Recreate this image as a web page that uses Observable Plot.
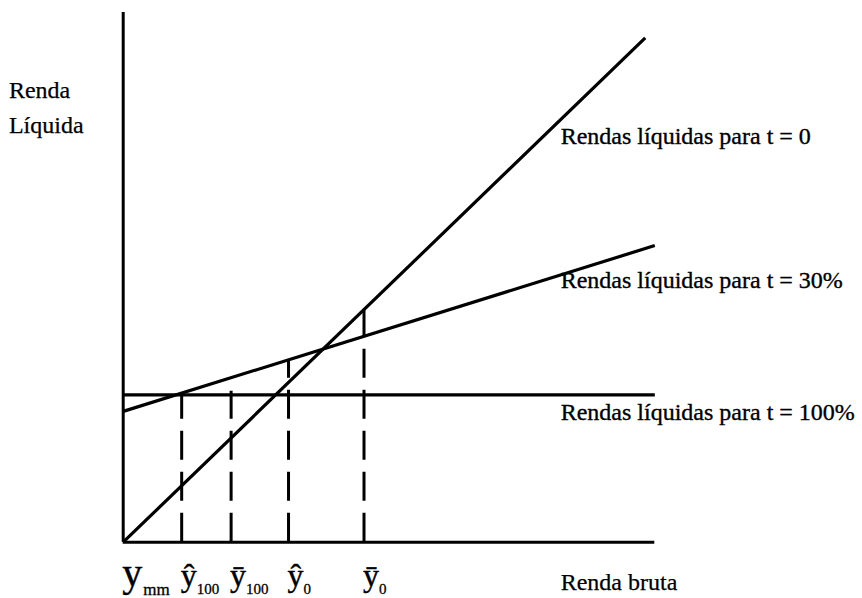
<!DOCTYPE html>
<html>
<head>
<meta charset="utf-8">
<script src="https://cdn.jsdelivr.net/npm/d3@7"></script>
<script src="https://cdn.jsdelivr.net/npm/@observablehq/plot@0.6"></script>
<style>
  html, body { margin: 0; padding: 0; background: #fff; }
  #chart svg { display: block; }
</style>
</head>
<body>
<div id="chart"></div>
<script>
// Net-income lines (gross income on x, net income on y), abstract units 0–100
const seriesNames  = ["t = 0", "t = 30%", "t = 100%"];
const seriesX1     = [0, 0, 0];
const seriesY1     = [0, 24.7, 27.8];
const seriesX2     = [98.2, 100, 100];
const seriesY2     = [95.2, 56.0, 27.8];
const seriesLabels = ["Rendas líquidas para t = 0", "Rendas líquidas para t = 30%", "Rendas líquidas para t = 100%"];
const seriesLabelX = [82.3, 82.3, 82.3];
const seriesLabelY = [75.1, 48.0, 23.0];

// Dashed reference levels of gross income
const markerX   = [11.0, 20.3, 31.1, 45.3];
const markerTop = [27.8, 28.5, 34.5, 43.9];

// Tick labels on the gross-income axis
const tickLetters = ["y", "ŷ", "ȳ", "ŷ", "ȳ"];
const tickSubs    = ["mm", "100", "100", "0", "0"];
const tickX       = [0, 11.0, 20.3, 31.1, 45.3];

// Axis titles
const axisTitles  = ["Renda", "Líquida", "Renda bruta"];
const axisTitleX  = [-21.5, -21.5, 82.3];
const axisTitleY  = [83.8, 77.2, -9.1];

const lines = seriesNames.map((name, i) => ({
  name, x1: seriesX1[i], y1: seriesY1[i], x2: seriesX2[i], y2: seriesY2[i],
  label: seriesLabels[i], lx: seriesLabelX[i], ly: seriesLabelY[i]
}));
const markers = markerX.map((x, i) => ({x, top: markerTop[i]}));
const ticks = tickLetters.map((letter, i) => ({letter, sub: tickSubs[i], x: tickX[i]}));
const titles = axisTitles.map((t, i) => ({t, x: axisTitleX[i], y: axisTitleY[i]}));

const font = "'Liberation Serif', 'Times New Roman', serif";

const chart = Plot.plot({
  width: 862,
  height: 598,
  margin: 0,
  style: {fontFamily: font, background: "#fff", color: "#000"},
  x: {domain: [0, 100], range: [122.7, 654.3], axis: null},
  y: {domain: [0, 100], range: [541.7, 12], axis: null},
  marks: [
    // axes
    Plot.ruleX([0], {y1: 0, y2: 100, stroke: "#000", strokeWidth: 3}),
    Plot.ruleY([0], {x1: 0, x2: 100, stroke: "#000", strokeWidth: 3}),
    // dashed guides
    Plot.ruleX(markers, {x: "x", y1: 0, y2: "top", stroke: "#000", strokeWidth: 3, strokeDasharray: "29,12"}),
    // net-income lines
    Plot.link(lines, {x1: "x1", y1: "y1", x2: "x2", y2: "y2", stroke: "#000", strokeWidth: 3.2}),
    // line labels
    Plot.text(lines, {x: "lx", y: "ly", text: "label", textAnchor: "start", lineAnchor: "bottom",
      fontSize: 24, fill: "#000", stroke: "#000", strokeWidth: 0.35}),
    // axis titles
    Plot.text(titles, {x: "x", y: "y", text: "t", textAnchor: "start", lineAnchor: "bottom",
      fontSize: 24, fill: "#000", stroke: "#000", strokeWidth: 0.25}),
    // tick letters
    Plot.text(ticks, {filter: (d, i) => i === 0, x: "x", y: -8.2, text: "letter", textAnchor: "start",
      lineAnchor: "bottom", fontSize: 40, dx: -1, fill: "#000", stroke: "#000", strokeWidth: 0.4}),
    Plot.text(ticks, {filter: (d, i) => i > 0, x: "x", y: -8.2, text: "letter", textAnchor: "start",
      lineAnchor: "bottom", fontSize: 32, dx: -1, fill: "#000", stroke: "#000", strokeWidth: 0.4}),
    // tick subscripts
    Plot.text(ticks, {filter: (d, i) => i === 0, x: "x", y: -10.0, text: "sub", textAnchor: "start",
      lineAnchor: "bottom", fontSize: 17, dx: 20, fill: "#000", stroke: "#000", strokeWidth: 0.3}),
    Plot.text(ticks, {filter: (d, i) => i > 0, x: "x", y: -9.8, text: "sub", textAnchor: "start",
      lineAnchor: "bottom", fontSize: 15, dx: 15, fill: "#000", stroke: "#000", strokeWidth: 0.3})
  ]
});
document.getElementById("chart").appendChild(chart);
</script>
</body>
</html>
